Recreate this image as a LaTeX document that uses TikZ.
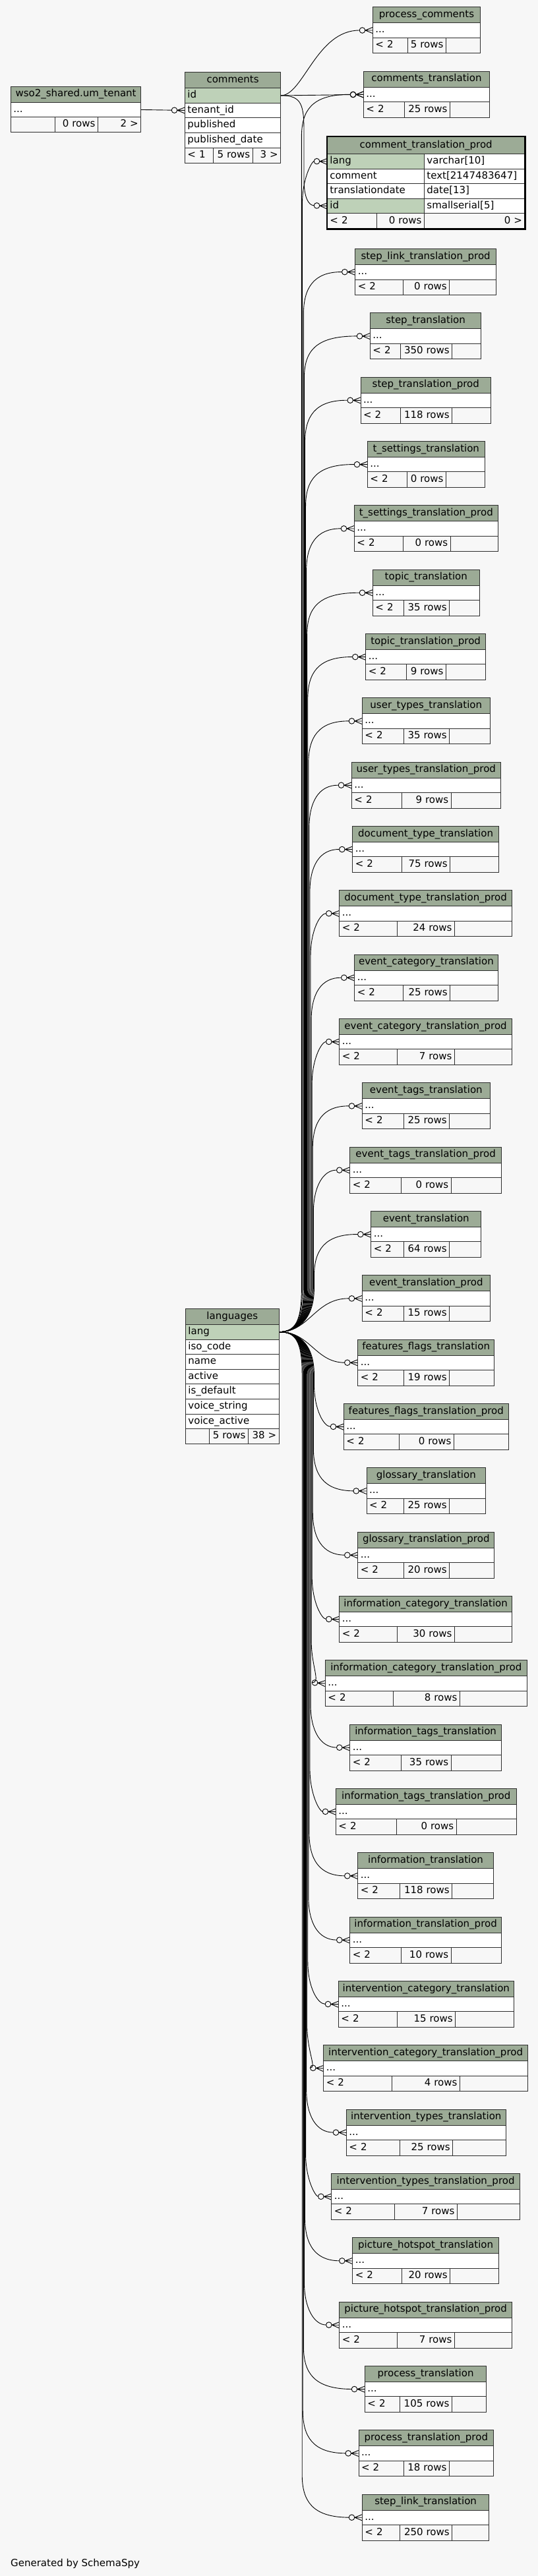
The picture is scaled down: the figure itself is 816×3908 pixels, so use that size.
\documentclass[tikz,border=0pt]{standalone}
\usepackage{fontspec}
\setmainfont{DejaVu Sans}
\usetikzlibrary{arrows.meta}
\definecolor{hdrc}{HTML}{9CAB96}
\definecolor{keyc}{HTML}{BED1B8}
\definecolor{ftc}{HTML}{F7F7F7}
\definecolor{bgc}{HTML}{F7F7F7}
\definecolor{bordc}{HTML}{2E2E2E}
\pgfdeclarelayer{bglayer}
\pgfdeclarelayer{edgelayer}
\pgfsetlayers{bglayer,edgelayer,main}
\pgfdeclarearrow{
  name = CrowO,
  setup code = {
    \pgfarrowssettipend{0pt}
    \pgfarrowssetlineend{-19.8pt}
    \pgfarrowssetvisualbackend{-20pt}
    \pgfarrowssetbackend{-20pt}
    \pgfarrowshullpoint{0pt}{5pt}
    \pgfarrowshullpoint{0pt}{-5pt}
    \pgfarrowshullpoint{-20pt}{0pt}
  },
  drawing code = {
    \pgfpathmoveto{\pgfqpoint{-11pt}{0pt}}
    \pgfpathlineto{\pgfqpoint{0pt}{4.5pt}}
    \pgfpathmoveto{\pgfqpoint{-11pt}{0pt}}
    \pgfpathlineto{\pgfqpoint{0pt}{-4.5pt}}
    \pgfpathmoveto{\pgfqpoint{-11pt}{0pt}}
    \pgfpathlineto{\pgfqpoint{0pt}{0pt}}
    \pgfusepathqstroke
    \pgfpathcircle{\pgfqpoint{-15.5pt}{0pt}}{4.3pt}
    \pgfusepathqstroke
  }
}
\newcommand\tabfont{\fontsize{15}{18}\selectfont}
\tikzset{
  cellbase/.style={draw=bordc, line width=0.9pt, inner xsep=4pt, inner ysep=0pt,
    text height=11pt, text depth=3.5pt, font=\tabfont, anchor=north west},
  hdrcell/.style={cellbase, fill=hdrc, align=center},
  keycell/.style={cellbase, fill=keyc, align=left},
  rowcell/.style={cellbase, fill=white, align=left},
  ftlcell/.style={cellbase, fill=ftc, align=left},
  ftrcell/.style={cellbase, fill=ftc, align=right},
  rel/.style={draw=black, line width=0.9pt, -{CrowO}},
  focusframe/.style={draw=black, line width=2.6pt},
}
% style, name, x1, x2, ytop, height, text
\newcommand\mkcell[7]{%
  \pgfmathsetmacro\mkcw{#4-(#3)-8}%
  \node[#1, text width=\mkcw pt, minimum height=#6pt] (#2) at (#3,#5) {\mbox{#7}};%
}
% name, ytop, x1, x2, title, d1, d2, rows
\newcommand\mktab[8]{%
  \pgfmathsetmacro\mky{#2}%
  \mkcell{hdrcell}{#1-h}{#3}{#4}{\mky}{24}{#5}%
  \mkcell{rowcell}{#1-r}{#3}{#4}{\mky+24}{22.5}{...}%
  \mkcell{ftlcell}{#1-f1}{#3}{#6}{\mky+46.5}{23.5}{< 2}%
  \mkcell{ftrcell}{#1-f2}{#6}{#7}{\mky+46.5}{23.5}{#8 rows}%
  \mkcell{ftrcell}{#1-f3}{#7}{#4}{\mky+46.5}{23.5}{}%
}
\newcommand\upedge[2]{%
  \pgfmathsetmacro\ey{#2}%
  \pgfmathsetmacro\ex{478-0.011*(2020-\ey)}%
  \draw[rel] (lang.east) .. controls (448,2020) and (\ex,2005) .. (\ex,1955)
    -- (\ex,\ey+65) .. controls (\ex,\ey+25) and (\ex+15,\ey) .. (#1.west);%
}
\newcommand\downedge[2]{%
  \pgfmathsetmacro\ey{#2}%
  \pgfmathsetmacro\ex{478-0.011*(\ey-2020)}%
  \draw[rel] (lang.east) .. controls (448,2020) and (\ex,2035) .. (\ex,2085)
    -- (\ex,\ey-65) .. controls (\ex,\ey-25) and (\ex+15,\ey) .. (#1.west);%
}
\begin{document}
\begin{tikzpicture}[x=1pt,y=-1pt]
\begin{pgfonlayer}{bglayer}
\path[use as bounding box, fill=bgc] (0,0) rectangle (816,3908);
\end{pgfonlayer}

% ---------- left tables ----------
\mkcell{hdrcell}{um-h}{16}{213.3}{130.7}{24}{wso2\_shared.um\_tenant}
\mkcell{rowcell}{um-r}{16}{213.3}{154.7}{22.6}{...}
\mkcell{ftlcell}{um-f1}{16}{82.7}{177.3}{22.7}{}
\mkcell{ftrcell}{um-f2}{82.7}{148}{177.3}{22.7}{0 rows}
\mkcell{ftrcell}{um-f3}{148}{213.3}{177.3}{22.7}{2 >}

\mkcell{hdrcell}{cm-h}{280}{425.3}{109}{24.3}{comments}
\mkcell{keycell}{cm-id}{280}{425.3}{133.3}{22.4}{id}
\mkcell{rowcell}{cm-tenant}{280}{425.3}{155.7}{22.6}{tenant\_id}
\mkcell{rowcell}{cm-pub}{280}{425.3}{178.3}{22.6}{published}
\mkcell{rowcell}{cm-pubdate}{280}{425.3}{200.9}{22.6}{published\_date}
\mkcell{ftlcell}{cm-f1}{280}{323.3}{223.5}{23}{< 1}
\mkcell{ftrcell}{cm-f2}{323.3}{382.7}{223.5}{23}{5 rows}
\mkcell{ftrcell}{cm-f3}{382.7}{425.3}{223.5}{23}{3 >}

\mkcell{hdrcell}{lang-h}{281}{422.7}{1985}{24}{languages}
\mkcell{keycell}{lang}{281}{422.7}{2009}{22.6}{lang}
\mkcell{rowcell}{lang-iso}{281}{422.7}{2031.6}{22.6}{iso\_code}
\mkcell{rowcell}{lang-name}{281}{422.7}{2054.2}{22.6}{name}
\mkcell{rowcell}{lang-active}{281}{422.7}{2076.8}{22.6}{active}
\mkcell{rowcell}{lang-def}{281}{422.7}{2099.4}{22.6}{is\_default}
\mkcell{rowcell}{lang-vs}{281}{422.7}{2122}{22.6}{voice\_string}
\mkcell{rowcell}{lang-va}{281}{422.7}{2144.6}{22.6}{voice\_active}
\mkcell{ftlcell}{lang-f1}{281}{317.3}{2167.2}{23}{}
\mkcell{ftrcell}{lang-f2}{317.3}{376}{2167.2}{23}{5 rows}
\mkcell{ftrcell}{lang-f3}{376}{422.7}{2167.2}{23}{38 >}

% ---------- right tables ----------
\mktab{pc}{10.3}{565}{728}{process\_comments}{617.7}{676}{5}
\mktab{ct}{107.7}{551}{742}{comments\_translation}{612.5}{682}{25}

\mkcell{hdrcell}{ctp-h}{496}{795.5}{207}{26.3}{comment\_translation\_prod}
\mkcell{keycell}{ctpLang}{496}{643}{233.3}{22.5}{lang}
\mkcell{rowcell}{ctpLangT}{643}{795.5}{233.3}{22.5}{varchar[10]}
\mkcell{rowcell}{ctpCom}{496}{643}{255.8}{22.5}{comment}
\mkcell{rowcell}{ctpComT}{643}{795.5}{255.8}{22.5}{text[2147483647]}
\mkcell{rowcell}{ctpDate}{496}{643}{278.3}{22.5}{translationdate}
\mkcell{rowcell}{ctpDateT}{643}{795.5}{278.3}{22.5}{date[13]}
\mkcell{keycell}{ctpId}{496}{643}{300.8}{22.5}{id}
\mkcell{rowcell}{ctpIdT}{643}{795.5}{300.8}{22.5}{smallserial[5]}
\mkcell{ftlcell}{ctp-f1}{496}{571.4}{323.3}{23.4}{< 2}
\mkcell{ftrcell}{ctp-f2}{571.4}{643}{323.3}{23.4}{0 rows}
\mkcell{ftrcell}{ctp-f3}{643}{795.5}{323.3}{23.4}{0 >}
\draw[focusframe] (ctp-h.north west) rectangle (ctp-f3.south east);

\mktab{t0}{377+97.33*0}{538.3}{752}{step\_link\_translation\_prod}{610.7}{681.3}{0}
\mktab{t1}{377+97.33*1}{561}{729.3}{step\_translation}{606.7}{685.3}{350}
\mktab{t2}{377+97.33*2}{546.7}{744}{step\_translation\_prod}{606.7}{685.3}{118}
\mktab{t3}{377+97.33*3}{557}{734.7}{t\_settings\_translation}{617}{676}{0}
\mktab{t4}{377+97.33*4}{537}{754.7}{t\_settings\_translation\_prod}{610.7}{682.7}{0}
\mktab{t5}{377+97.33*5}{565}{726.7}{topic\_translation}{611.7}{681.3}{35}
\mktab{t6}{377+97.33*6}{554.3}{736}{topic\_translation\_prod}{615.7}{676}{9}
\mktab{t7}{377+97.33*7}{549}{742.7}{user\_types\_translation}{611.7}{681.3}{35}
\mktab{t8}{377+97.33*8}{533}{758.7}{user\_types\_translation\_prod}{609}{683.7}{9}
\mktab{t9}{377+97.33*9}{534.3}{756}{document\_type\_translation}{609}{682.3}{75}
\mktab{t10}{377+97.33*10}{514.3}{776}{document\_type\_translation\_prod}{602.3}{689}{24}
\mktab{t11}{377+97.33*11}{537.3}{754.7}{event\_category\_translation}{610.7}{682.3}{25}
\mktab{t12}{377+97.33*12}{514.3}{776}{event\_category\_translation\_prod}{602.3}{689}{7}
\mktab{t13}{377+97.33*13}{549}{742.7}{event\_tags\_translation}{611.7}{681.3}{25}
\mktab{t14}{377+97.33*14}{530.3}{760}{event\_tags\_translation\_prod}{607.7}{683.7}{0}
\mktab{t15}{377+97.33*15}{562.3}{729.3}{event\_translation}{611.7}{681.3}{64}
\mktab{t16}{377+97.33*16}{549}{742.7}{event\_translation\_prod}{611.7}{681.3}{15}
\mktab{t17}{377+97.33*17}{542.3}{749.3}{features\_flags\_translation}{611.7}{681.3}{19}
\mktab{t18}{377+97.33*18}{521}{770.7}{features\_flags\_translation\_prod}{605}{688}{0}
\mktab{t19}{377+97.33*19}{555.7}{736}{glossary\_translation}{611.7}{681.3}{25}
\mktab{t20}{377+97.33*20}{542.3}{749.3}{glossary\_translation\_prod}{611.7}{681.3}{20}
\mktab{t21}{377+97.33*21}{514.3}{776}{information\_category\_translation}{602.3}{689}{30}
\mktab{t22}{377+97.33*22}{493}{798.7}{information\_category\_translation\_prod}{595.7}{697}{8}
\mktab{t23}{377+97.33*23}{530.3}{760}{information\_tags\_translation}{607.7}{683.7}{35}
\mktab{t24}{377+97.33*24}{509}{782.7}{information\_tags\_translation\_prod}{601}{691.7}{0}
\mktab{t25}{377+97.33*25}{542.3}{748}{information\_translation}{606.3}{685.3}{118}
\mktab{t26}{377+97.33*26}{530.3}{760}{information\_translation\_prod}{607.7}{683.7}{10}
\mktab{t27}{377+97.33*27}{513}{778.7}{intervention\_category\_translation}{602.3}{690.3}{15}
\mktab{t28}{377+97.33*28}{490.3}{800}{intervention\_category\_translation\_prod}{594.3}{697}{4}
\mktab{t29}{377+97.33*29}{525}{766.7}{intervention\_types\_translation}{606.3}{686.3}{25}
\mktab{t30}{377+97.33*30}{502.3}{788}{intervention\_types\_translation\_prod}{598.3}{693}{7}
\mktab{t31}{377+97.33*31}{534.3}{756}{picture\_hotspot\_translation}{609}{682.3}{20}
\mktab{t32}{377+97.33*32}{514.3}{776}{picture\_hotspot\_translation\_prod}{602.3}{689}{7}
\mktab{t33}{377+97.33*33}{553}{737.3}{process\_translation}{606.3}{685}{105}
\mktab{t34}{377+97.33*34}{543.7}{748}{process\_translation\_prod}{611.7}{681}{18}
\mktab{t35}{377+97.33*35}{549}{741.3}{step\_link\_translation}{606.3}{685.3}{250}

% ---------- connectors (behind tables) ----------
\begin{pgfonlayer}{edgelayer}
\draw[rel] (um-r.east) -- (cm-tenant.west);
\draw[rel] (cm-id.east) -- (ct-r.west);
\draw[rel] (cm-id.east) .. controls (460,144.5) and (480,46) .. (pc-r.west);
\draw[rel] (cm-id.east) .. controls (458,144.5) and (461,160) .. (461,200)
  -- (461,272) .. controls (461,300) and (468,311.5) .. (ctpId.west);
\upedge{ct-r}{142.95}
\upedge{ctpLang}{244.55}
\foreach \k in {0,...,15} {\upedge{t\k-r}{412.25+97.33*\k}}
\draw[rel] (lang.east) .. controls (470,2020) and (478,1969.5) .. (t16-r.west);
\draw[rel] (lang.east) .. controls (470,2020) and (478,2066.9) .. (t17-r.west);
\foreach \k in {18,...,35} {\downedge{t\k-r}{412.25+97.33*\k}}
\end{pgfonlayer}

\node[anchor=base west, inner sep=0pt, font=\tabfont] (gen) at (16,3893) {Generated by SchemaSpy};
\end{tikzpicture}
\end{document}
